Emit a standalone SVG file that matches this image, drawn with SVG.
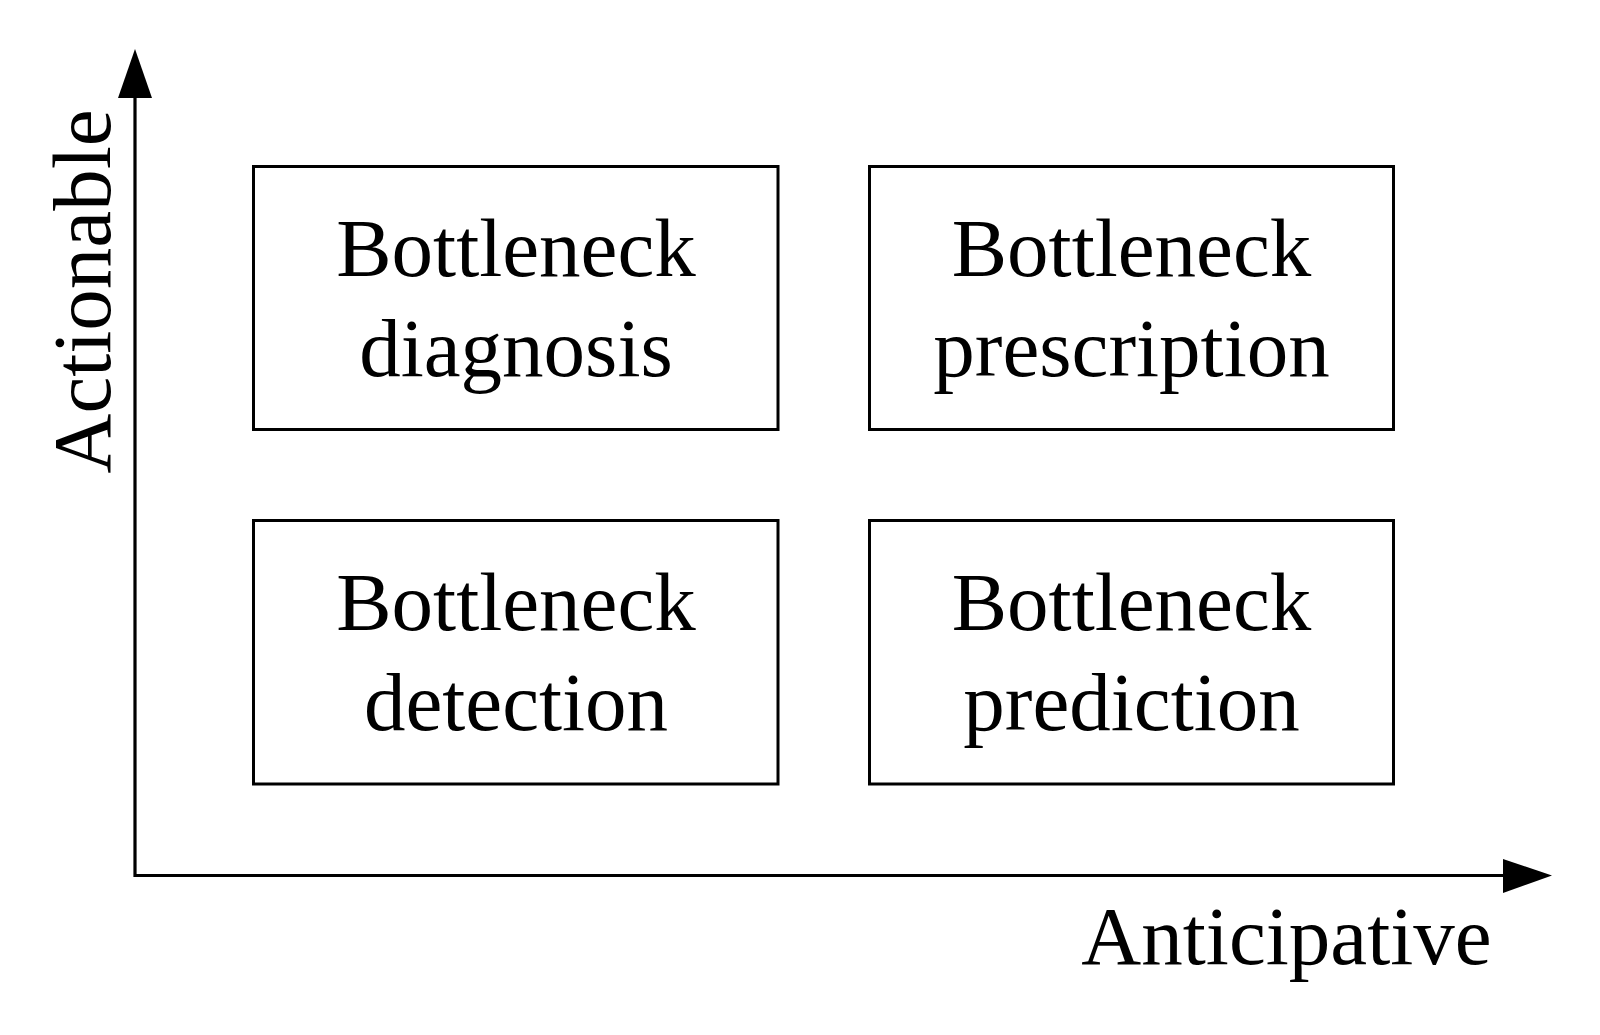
<svg xmlns="http://www.w3.org/2000/svg" width="1600" height="1035" viewBox="0 0 1600 1035">
<style>
.box{fill:#fff;stroke:#000;stroke-width:3}
.t{font-family:"Liberation Serif","Times New Roman",serif;font-size:83px;fill:#000;text-anchor:middle}
.ax{stroke:#000;stroke-width:3.2;fill:none}
</style>
<rect width="1600" height="1035" fill="#fff"/>
<g id="connectors">
<path class="ax" d="M135,96 V875.5 H1505"/>
<polygon points="135,49 118,98 152,98" fill="#000"/>
<polygon points="1552,875.5 1503,859 1503,893" fill="#000"/>
</g>
<g id="node-diagnosis">
<rect class="box" x="253.5" y="166.5" width="524.5" height="263"/>
<text class="t" x="516" y="276">Bottleneck</text>
<text class="t" x="516" y="376">diagnosis</text>
</g>
<g id="node-prescription">
<rect class="box" x="869.5" y="166.5" width="524" height="263"/>
<text class="t" x="1131.5" y="276">Bottleneck</text>
<text class="t" x="1131.5" y="376">prescription</text>
</g>
<g id="node-detection">
<rect class="box" x="253.5" y="520.5" width="524.5" height="263.5"/>
<text class="t" x="516" y="630">Bottleneck</text>
<text class="t" x="516" y="730">detection</text>
</g>
<g id="node-prediction">
<rect class="box" x="869.5" y="520.5" width="524" height="263.5"/>
<text class="t" x="1131.5" y="630">Bottleneck</text>
<text class="t" x="1131.5" y="730">prediction</text>
</g>
<g id="axis-labels">
<text class="t" transform="translate(110,291.5) rotate(-90)">Actionable</text>
<text class="t" x="1286.5" y="964">Anticipative</text>
</g>
</svg>
